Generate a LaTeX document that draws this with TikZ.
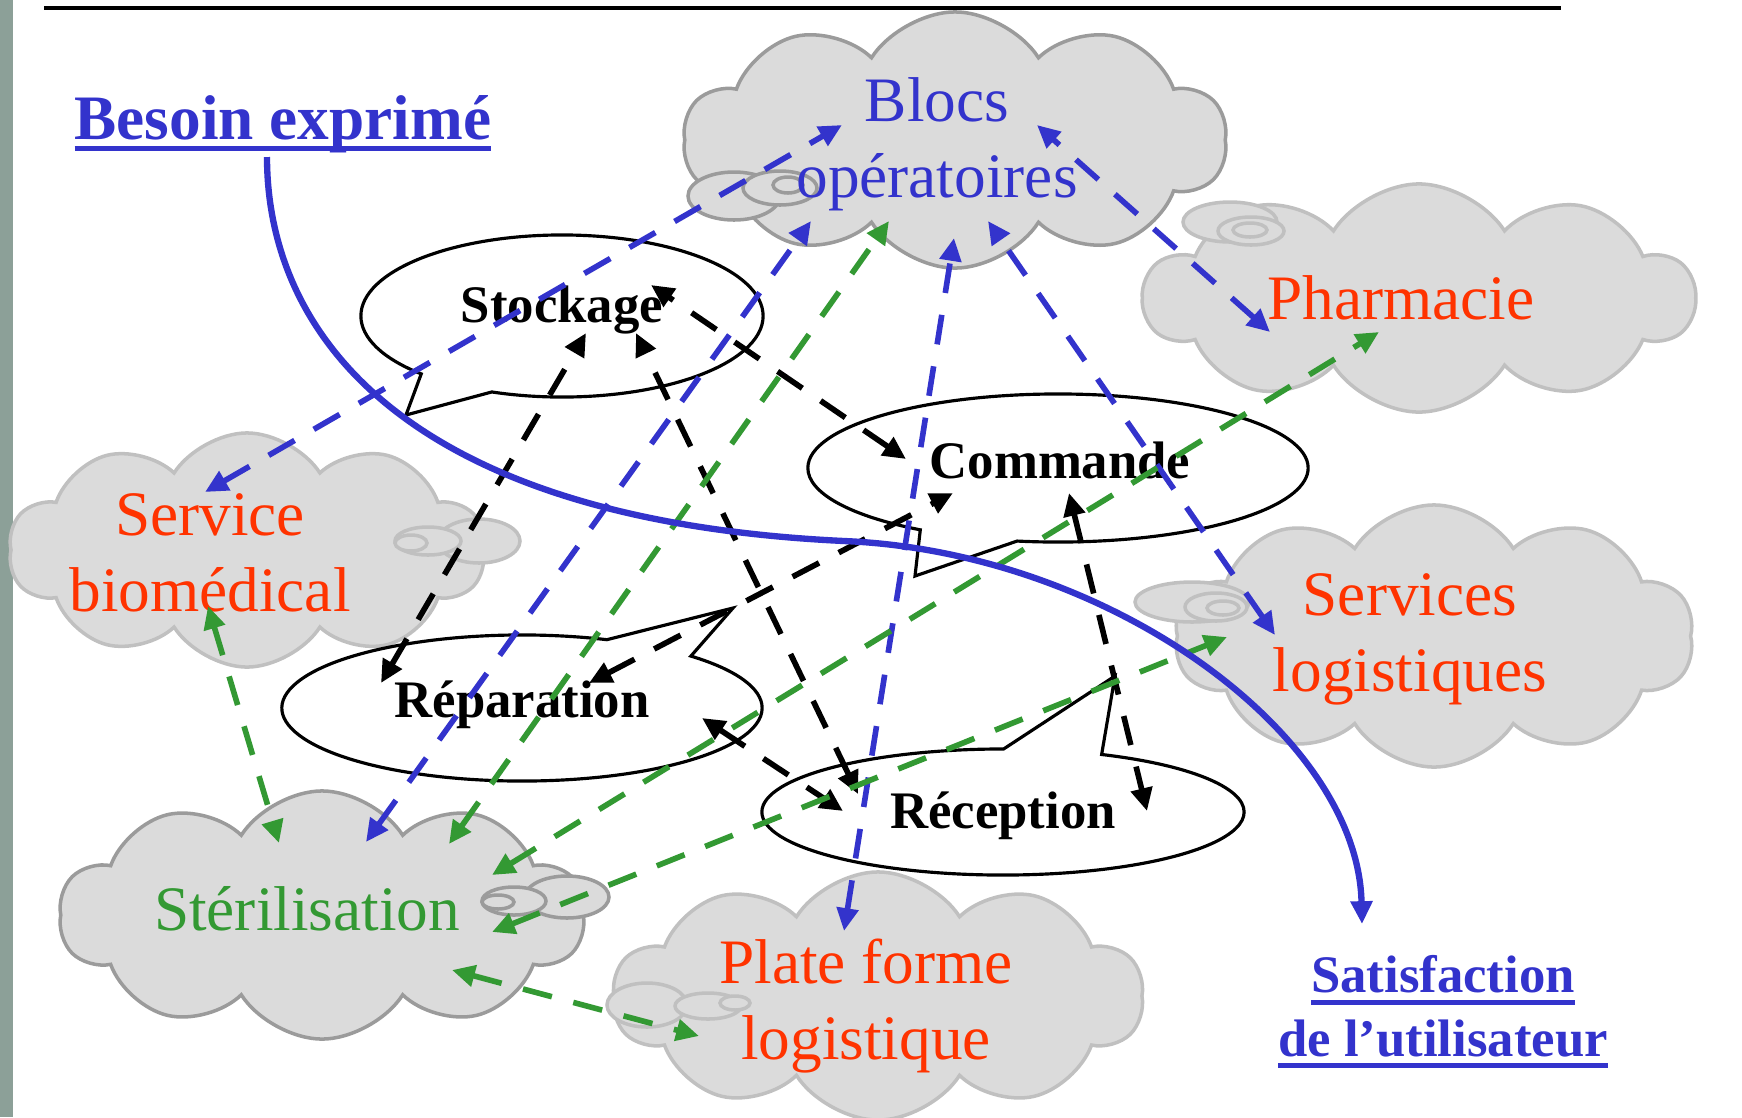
\documentclass[tikz,border=0pt]{standalone}
\usepackage{fontspec}
\setmainfont{Liberation Serif}
\usetikzlibrary {arrows.meta, positioning}
\usetikzlibrary {shapes.symbols, shapes.callouts}

\definecolor{cblue}{RGB}{51,51,204}
\definecolor{cred}{RGB}{255,51,0}
\definecolor{cgreen}{RGB}{51,153,51}
\definecolor{cloudfill}{RGB}{219,219,219}
\definecolor{cloudline}{RGB}{192,192,192}
\definecolor{cloudlinedk}{RGB}{155,155,155}
\definecolor{photo}{RGB}{140,160,152}

% thick underline
\newcommand{\thickul}[1]{\setbox0\hbox{#1}\leavevmode\rlap{\rule[-3.4pt]{\wd0}{1.4pt}}\box0}

\tikzset{
    >={Triangle[length=6.5pt, width=6pt]},
    puff/.style={cloud, cloud puffs=10, cloud puff arc=115, cloud ignores aspect,
        fill=cloudfill, draw=cloudline, line width=1pt, inner sep=0pt},
    talk/.style={ellipse callout, fill=white, draw=black, line width=0.9pt,
        inner sep=0pt, callout pointer arc=24},
    cloudtext/.style={font=\fontsize{18}{21.5}\selectfont, align=center, anchor=base},
    labeltext/.style={font=\fontsize{15}{18}\selectfont\bfseries, anchor=base},
    title/.style={text=cblue, align=center, anchor=base},
    link/.style={<->, dash pattern=on 8.5pt off 6.3pt, line width=1.6pt}
}

\begin{document}
\begin{tikzpicture}[x=0.01cm, y=-0.01cm]
    \useasboundingbox (0,0) rectangle (1742,1117);
    % frame
    \fill[photo] (0,0) rectangle (13,1117);
    \draw[line width=1.3pt] (44,8) -- (1561,8);

    % clouds
    \node[puff, draw=cloudlinedk, minimum width=5.43cm, minimum height=2.56cm] (cl-blocs) at (955,140) {};
    \node[puff, minimum width=5.50cm, minimum height=2.28cm] (cl-pharma) at (1419,298) {};
    \node[puff, minimum width=4.76cm, minimum height=2.34cm] (cl-biomed) at (247,550) {};
    \node[puff, minimum width=5.19cm, minimum height=2.62cm] (cl-servlog) at (1434,636) {};
    \node[puff, draw=cloudlinedk, minimum width=5.25cm, minimum height=2.48cm] (cl-steril) at (322,915) {};
    \node[puff, minimum width=5.30cm, minimum height=2.48cm] (cl-plate) at (878,996) {};

    % thought bubbles
    \foreach \x/\y/\a/\b/\c in {734/196/46/24/cloudlinedk, 780/188/37/17/cloudlinedk, 788/185/15/8/cloudlinedk,
            1230/222/47/20/cloudline, 1251/231/33/14/cloudline, 1250/230/17/7/cloudline,
            479/541/41/22/cloudline, 428/541/33/14/cloudline, 411/543/16/8/cloudline,
            1192/602/57/20/cloudline, 1216/607/31/14/cloudline, 1223/608/16/7/cloudline,
            567/897/42/21/cloudlinedk, 514/901/32/14/cloudlinedk, 498/902/16/7/cloudlinedk,
            647/1005/40/22/cloudline, 708/1006/33/13/cloudline, 735/1003/15/7/cloudline}{
        \draw[fill=cloudfill, draw=\c, line width=1pt] (\x,\y) ellipse ({\a} and {\b});
    }

    % speech bubbles
    \node[talk, minimum width=4.02cm, minimum height=1.62cm, callout absolute pointer={(406,415)}] (bub-stock) at (562,316) {};
    \node[talk, minimum width=5.00cm, minimum height=1.48cm, callout absolute pointer={(915,576)}] (bub-cmd) at (1058,468) {};
    \node[talk, minimum width=4.80cm, minimum height=1.46cm, callout absolute pointer={(733,608)}] (bub-repar) at (522,708) {};
    \node[talk, minimum width=4.82cm, minimum height=1.26cm, callout absolute pointer={(1115,676)}] (bub-recep) at (1003,812) {};

    % texts (base = last line)
    \node[cloudtext, text=cblue] (blocs) at (937,197) {Blocs\\opératoires};
    \node[cloudtext, text=cred] (pharma) at (1401,319) {Pharmacie};
    \node[cloudtext, text=cred] (biomed) at (210,611) {Service\\biomédical};
    \node[cloudtext, text=cred] (servlog) at (1410,691) {Services\\logistiques};
    \node[cloudtext, text=cgreen] (steril) at (307,930) {Stérilisation};
    \node[cloudtext, text=cred] (plate) at (866,1059) {Plate forme\\logistique};
    \node[labeltext] (stock) at (562,322) {Stockage};
    \node[labeltext] (cmd) at (1060,478) {Commande};
    \node[labeltext] (repar) at (522,717) {Réparation};
    \node[labeltext] (recep) at (1003,828) {Réception};
    \node[title, font=\fontsize{18}{21.5}\selectfont\bfseries] (need) at (283,139) {\thickul{Besoin exprimé}};
    \node[title, font=\fontsize{15}{18}\selectfont\bfseries] (satis) at (1443,1056) {\thickul{Satisfaction}\\\thickul{de l’utilisateur}};

    % arrow ends
    \coordinate (blocs-1) at (842,125);   \coordinate (blocs-2) at (811,221);
    \coordinate (blocs-3) at (954,238);   \coordinate (blocs-4) at (988,221);
    \coordinate (blocs-5) at (1037,125);  \coordinate (blocs-6) at (889,221);
    \coordinate (biomed-1) at (205,492);  \coordinate (biomed-2) at (208,606);
    \coordinate (steril-1) at (366,842);  \coordinate (steril-2) at (279,843);
    \coordinate (steril-3) at (449,844);  \coordinate (steril-4) at (492,875);
    \coordinate (steril-5) at (492,932);  \coordinate (steril-6) at (452,970);
    \coordinate (plate-1) at (844,931);   \coordinate (plate-2) at (699,1036);
    \coordinate (servlog-1) at (1275,635);\coordinate (servlog-2) at (1227,637);
    \coordinate (pharma-1) at (1270,332); \coordinate (pharma-2) at (1379,332);
    \coordinate (stock-1) at (586,333);   \coordinate (stock-2) at (636,333);
    \coordinate (stock-3) at (651,285);
    \coordinate (cmd-1) at (906,459);     \coordinate (cmd-2) at (953,493);
    \coordinate (cmd-3) at (1069,493);
    \coordinate (repar-1) at (381,683);   \coordinate (repar-2) at (589,683);
    \coordinate (repar-3) at (702,718);
    \coordinate (recep-1) at (858,794);   \coordinate (recep-2) at (843,811);
    \coordinate (recep-3) at (1147,811);
    \coordinate (need-out) at (267,157);  \coordinate (satis-in) at (1362,924);

    % links
    \foreach \a/\b in {biomed-1/blocs-1, steril-1/blocs-2, plate-1/blocs-3, servlog-1/blocs-4, pharma-1/blocs-5}{
        \draw[link, cblue] (\a) -- (\b);
    }
    \foreach \a/\b in {repar-1/stock-1, recep-1/stock-2, cmd-1/stock-3, repar-2/cmd-2, repar-3/recep-2, cmd-3/recep-3}{
        \draw[link] (\a) -- (\b);
    }
    \foreach \a/\b in {biomed-2/steril-2, steril-3/blocs-6, steril-4/pharma-2, steril-5/servlog-2, steril-6/plate-2}{
        \draw[link, cgreen] (\a) -- (\b);
    }
    % need to satisfaction
    \draw[->, cblue, line width=1.8pt] (need-out) .. controls (267,330) and (400,520) .. (844,541)
        .. controls (1110,552) and (1358,735) .. (satis-in);
\end{tikzpicture}
\end{document}
